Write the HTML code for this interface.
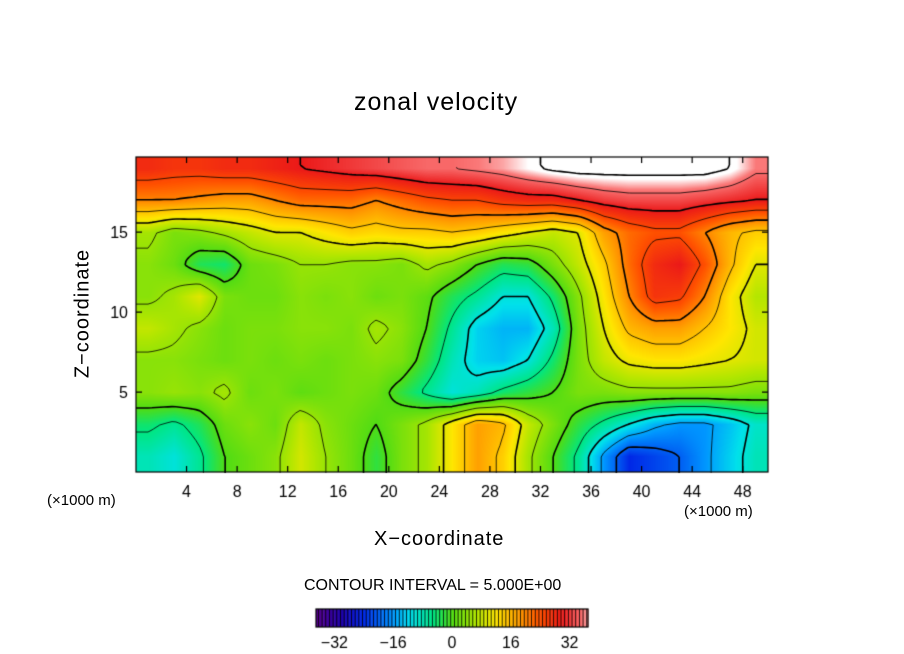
<!DOCTYPE html>
<html><head><meta charset="utf-8"><style>
body{margin:0;background:#fff;width:904px;height:654px;overflow:hidden;position:relative;font-family:"Liberation Sans",sans-serif}
.t{position:absolute;color:#000;white-space:nowrap}
canvas{position:absolute;left:0;top:0}
</style></head><body>
<canvas id="c" width="904" height="654"></canvas>
<div class="t" style="left:354px;top:88px;font-size:25px;letter-spacing:1px">zonal velocity</div>
<div class="t" style="left:-2px;top:302px;font-size:20px;transform:rotate(-90deg);width:170px;text-align:center;letter-spacing:1px">Z−coordinate</div>
<div class="t" style="left:374px;top:528px;font-size:20px;letter-spacing:1px">X−coordinate</div>
<div class="t" style="left:47px;top:492px;font-size:15px">(×1000 m)</div>
<div class="t" style="left:684px;top:503px;font-size:15px">(×1000 m)</div>
<div class="t" style="left:304px;top:577px;font-size:16px">CONTOUR INTERVAL = 5.000E+00</div>
<script>
const xCenters=[1,3,5,7,9,11,13,15,17,19,21,23,25,27,29,31,33,35,37,39,41,43,45,47,49];
const zCenters=[19,17,15,13,11,9,7,5,3,1];
const row19=[28,27,27,28,28,29,30,31,32,33,34,35,35,36,37,39,41,42,42,42,42,42,42,40,36];
const row17=[20,20,19,18,18,20,22,22,22,20,22,24,25,25,27,28,28,30,32,33,33,33,32,31,30];
const row15=[6,3,4,6,8,10,10,12,14,13,14,14,15,14,12,10,8,10,18,22,24,24,20,16,14];
const row13=[4,2,-3,-4,2,3,5,5,4,4,3,6,4,0,-3,-2,3,8,14,22,28,30,24,16,10];
const row11=[4,6,10,3,2,2,4,3,4,2,3,1,-3,-6,-10,-10,-4,4,12,20,27,26,20,12,7];
const row9=[8,6,4,2,3,3,4,4,3,6,4,0,-6,-12,-14,-14,-8,3,10,16,18,18,15,12,9];
const row7=[4,4,3,2,3,2,3,2,3,4,3,-2,-8,-12,-13,-10,-4,3,8,11,12,12,11,10,9];
const row5=[4,5,4,6,2,3,1,2,3,2,-2,-6,-10,-8,-4,-2,0,3,3,4,4,4,4,4,3];
const row3=[-4,-6,-3,2,4,2,8,4,2,0,3,6,12,18,16,8,3,-2,-6,-10,-14,-16,-16,-13,-9];
const row1=[-8,-10,-6,0,2,4,9,5,2,-2,3,6,12,18,14,6,0,-6,-16,-24,-22,-20,-16,-12,-8];
const rows=[row19,row17,row15,row13,row11,row9,row7,row5,row3,row1];
const xTicks=[4,8,12,16,20,24,28,32,36,40,44,48];
const yTicks=[5,10,15];
const cbTicks=[-32,-16,0,16,32];

const L=136,R=768,T=157,B=472,XMAX=50,ZMAX=19.7;
const sx=x=>L+(x/XMAX)*(R-L), sz=z=>B-(z/ZMAX)*(B-T);
const stops=[[-37,[90,0,140]],[-30,[30,0,170]],[-24,[0,40,230]],[-16,[0,150,255]],[-11,[0,225,235]],[-5,[0,230,130]],[0,[80,220,20]],[7,[180,230,0]],[12,[255,230,0]],[18,[255,160,0]],[24,[255,80,0]],[30,[235,25,25]],[36,[250,120,120]],[39,[255,255,255]]];
function col(v){if(v<=stops[0][0])return stops[0][1];for(let i=1;i<stops.length;i++){if(v<=stops[i][0]){const a=stops[i-1],b=stops[i],t=(v-a[0])/(b[0]-a[0]);return a[1].map((c,k)=>c+(b[1][k]-c)*t);}}return stops[stops.length-1][1];}
function field(x,z){
  let fx=(x-xCenters[0])/2, fz=(zCenters[0]-z)/2;
  fx=Math.max(0,Math.min(xCenters.length-1.001,fx)); fz=Math.max(0,Math.min(zCenters.length-1.001,fz));
  const i=Math.floor(fx),j=Math.floor(fz),tx=fx-i,tz=fz-j;
  const a=rows[j][i],b=rows[j][i+1],c=rows[j+1][i],d=rows[j+1][i+1];
  return (a*(1-tx)+b*tx)*(1-tz)+(c*(1-tx)+d*tx)*tz;
}
const cv=document.getElementById('c'),g=cv.getContext('2d');
const W=R-L,H=B-T,img=g.createImageData(W,H);
for(let py=0;py<H;py++)for(let px=0;px<W;px++){
  const v=field((px/W)*XMAX,ZMAX-(py/H)*ZMAX),c=col(v),k=(py*W+px)*4;
  img.data[k]=c[0];img.data[k+1]=c[1];img.data[k+2]=c[2];img.data[k+3]=255;}
g.putImageData(img,L,T);
const st=4,nx=Math.ceil(W/st),ny=Math.ceil(H/st),F=[];
for(let j=0;j<=ny;j++){F[j]=[];for(let i=0;i<=nx;i++)F[j][i]=field(Math.min(W,i*st)/W*XMAX,ZMAX-Math.min(H,j*st)/H*ZMAX);}
for(let lv=-35;lv<=40;lv+=5){
  g.beginPath();g.strokeStyle='#000';g.lineWidth=(lv%10===0)?1.6:0.8;
  for(let j=0;j<ny;j++)for(let i=0;i<nx;i++){
    const p=[[i,j,F[j][i]],[i+1,j,F[j][i+1]],[i+1,j+1,F[j+1][i+1]],[i,j+1,F[j+1][i]]],pts=[];
    for(let e=0;e<4;e++){const a=p[e],b=p[(e+1)%4];if((a[2]-lv)*(b[2]-lv)<0){const t=(lv-a[2])/(b[2]-a[2]);pts.push([L+(a[0]+(b[0]-a[0])*t)*st,T+(a[1]+(b[1]-a[1])*t)*st]);}}
    for(let q=0;q+1<pts.length;q+=2){g.moveTo(pts[q][0],pts[q][1]);g.lineTo(pts[q+1][0],pts[q+1][1]);}
  }
  g.stroke();
}
g.clearRect(R+1,T-2,30,H+4);
g.strokeStyle='#000';g.lineWidth=1.2;g.strokeRect(L,T,W,H);
g.font='16px "Liberation Sans",sans-serif';g.fillStyle='#000';g.textAlign='center';
xTicks.forEach(v=>{const x=sx(v);g.beginPath();g.moveTo(x,B);g.lineTo(x,B-6);g.moveTo(x,T);g.lineTo(x,T+6);g.stroke();g.fillText(String(v),x,497);});
g.textAlign='right';
yTicks.forEach(v=>{const y=sz(v);g.beginPath();g.moveTo(L,y);g.lineTo(L+6,y);g.moveTo(R,y);g.lineTo(R-6,y);g.stroke();g.fillText(String(v),128,y+6);});
const cbL=316,cbR=588,cbT=609,cbB=627,cmin=-37,cmax=37,cx=v=>cbL+(v-cmin)/(cmax-cmin)*(cbR-cbL);
for(let v=cmin;v<cmax;v+=1){const c=col(v+0.5);g.fillStyle=`rgb(${c.map(Math.round).join(',')})`;g.fillRect(cx(v),cbT,cx(v+1)-cx(v)+0.5,cbB-cbT);g.fillStyle='#000';g.fillRect(cx(v)+2,cbT,0.8,cbB-cbT);}
g.strokeRect(cbL,cbT,cbR-cbL,cbB-cbT);
g.textAlign='center';g.font='16px "Liberation Sans",sans-serif';
cbTicks.forEach(v=>g.fillText(v<0?'−'+(-v):String(v),cx(v),648));
</script>
</body></html>
